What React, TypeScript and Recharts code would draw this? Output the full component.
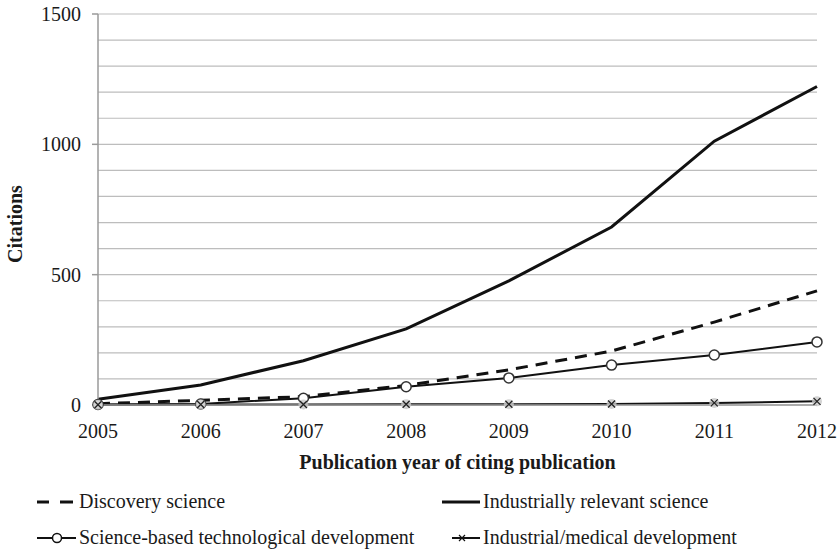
import React from "react";
import { LineChart, Line, XAxis, YAxis, CartesianGrid, Legend, Label } from "recharts";

const YEARS = [2005, 2006, 2007, 2008, 2009, 2010, 2011, 2012];
const DISCOVERY = [5, 18, 32, 75, 135, 207, 318, 438];
const INDUSTRIALLY_RELEVANT = [22, 77, 170, 292, 476, 683, 1012, 1222];
const SCIENCE_BASED = [2, 4, 26, 70, 104, 153, 192, 242];
const INDUSTRIAL_MEDICAL = [1, 2, 2, 3, 3, 4, 8, 14];

const Y_TICKS = [0, 500, 1000, 1500];
const GRID_VALUES = [0, 100, 200, 300, 400, 500, 600, 700, 800, 900, 1000, 1100, 1200, 1300, 1400, 1500];

// legend is laid out row by row, two columns
const LEGEND_ORDER = ["discovery", "industrially", "science", "industrial"];

const FONT = '"Liberation Serif", Tinos, "Times New Roman", "DejaVu Serif", serif';
const FS = 20;
const TEXT = "#1a1a1a";

const data = YEARS.map((y, i) => ({
  year: String(y),
  discovery: DISCOVERY[i],
  industrially: INDUSTRIALLY_RELEVANT[i],
  science: SCIENCE_BASED[i],
  industrial: INDUSTRIAL_MEDICAL[i],
}));

// eslint-disable-next-line @typescript-eslint/no-explicit-any
const CircleDot = (props: any) => {
  const { cx, cy } = props;
  if (cx == null || cy == null) return null;
  return <circle cx={cx} cy={cy} r={5} fill="#fff" stroke="#333" strokeWidth={1.5} />;
};

// eslint-disable-next-line @typescript-eslint/no-explicit-any
const CrossDot = (props: any) => {
  const { cx, cy } = props;
  if (cx == null || cy == null) return null;
  const s = 3.5;
  return (
    <g>
      <circle cx={cx} cy={cy} r={5} fill="#c8c8c8" opacity={0.8} />
      <path
        d={`M${cx - s},${cy - s}L${cx + s},${cy + s}M${cx - s},${cy + s}L${cx + s},${cy - s}`}
        stroke="#222"
        strokeWidth={1.3}
      />
    </g>
  );
};

const LegendIcon = ({ kind }: { kind: string }) => {
  if (kind === "discovery") {
    return (
      <g>
        <line x1={0} y1={0} x2={12} y2={0} stroke="#111" strokeWidth={3} />
        <line x1={23} y1={0} x2={36} y2={0} stroke="#111" strokeWidth={3} />
      </g>
    );
  }
  if (kind === "industrially") {
    return <line x1={0} y1={0} x2={38} y2={0} stroke="#111" strokeWidth={3} />;
  }
  if (kind === "science") {
    return (
      <g>
        <line x1={0} y1={0} x2={39} y2={0} stroke="#111" strokeWidth={2} />
        <circle cx={20} cy={0} r={4.5} fill="#fff" stroke="#111" strokeWidth={1.5} />
      </g>
    );
  }
  return (
    <g>
      <line x1={10} y1={0} x2={38} y2={0} stroke="#111" strokeWidth={2} />
      <path d="M17,-3L23,3M17,3L23,-3" stroke="#111" strokeWidth={1.2} />
    </g>
  );
};

// eslint-disable-next-line @typescript-eslint/no-explicit-any
const LegendContent = ({ payload }: any) => {
  const cols = [37, 442];
  const rows = [22, 58];
  const items = LEGEND_ORDER.map((k) => (payload || []).find((p: any) => p.dataKey === k)).filter(Boolean);
  return (
    <svg width={840} height={72} style={{ display: "block" }}>
      {items.map((entry: any, i: number) => {
        const x = cols[i % 2];
        const y = rows[Math.floor(i / 2)];
        const textX = i % 2 === 0 ? 79 : 483;
        return (
          <g key={entry.dataKey}>
            <g transform={`translate(${x},${y})`}>
              <LegendIcon kind={entry.dataKey} />
            </g>
            <text x={textX} y={y + 6} fontFamily={FONT} fontSize={FS} fill={TEXT}>
              {entry.value}
            </text>
          </g>
        );
      })}
    </svg>
  );
};

export default function App() {
  return (
    <div
      style={{
        position: "absolute",
        left: 0,
        top: 0,
        width: 840,
        height: 552,
        background: "#fff",
        fontFamily: FONT,
      }}
    >
      <LineChart width={840} height={552} data={data} margin={{ top: 14, right: 23, bottom: 0, left: 0 }}>
        <CartesianGrid vertical={false} stroke="#bdbdbd" strokeWidth={1.2} horizontalValues={GRID_VALUES} />
        <XAxis
          dataKey="year"
          height={147}
          tickLine={false}
          tickSize={0}
          tickMargin={19}
          axisLine={{ stroke: "#9a9a9a", strokeWidth: 1.5 }}
          tick={{ fontSize: FS, fill: TEXT, fontFamily: FONT }}
          interval={0}
        >
          <Label
            content={(props: any) => {
              const vb = props.viewBox || {};
              return (
                <text
                  x={vb.x + vb.width / 2}
                  y={469}
                  textAnchor="middle"
                  fontFamily={FONT}
                  fontSize={FS}
                  fontWeight="bold"
                  fill={TEXT}
                >
                  Publication year of citing publication
                </text>
              );
            }}
          />
        </XAxis>
        <YAxis
          width={98}
          domain={[0, 1500]}
          ticks={Y_TICKS}
          tickSize={6}
          tickMargin={11}
          tickLine={{ stroke: "#9a9a9a", strokeWidth: 1.5 }}
          axisLine={{ stroke: "#9a9a9a", strokeWidth: 1.5 }}
          tick={{ fontSize: FS, fill: TEXT, fontFamily: FONT }}
        >
          <Label
            content={() => (
              <text
                transform="translate(22,224) rotate(-90)"
                textAnchor="middle"
                fontFamily={FONT}
                fontSize={FS}
                fontWeight="bold"
                fill={TEXT}
              >
                Citations
              </text>
            )}
          />
        </YAxis>
        <Legend
          verticalAlign="middle"
          align="center"
          wrapperStyle={{ top: 480, left: 0, width: 840, height: 72 }}
          content={<LegendContent />}
        />
        <Line
          dataKey="discovery"
          name="Discovery science"
          type="linear"
          stroke="#111"
          strokeWidth={3}
          strokeDasharray="12 8"
          dot={false}
          activeDot={false}
          isAnimationActive={false}
        />
        <Line
          dataKey="industrially"
          name="Industrially relevant science"
          type="linear"
          stroke="#111"
          strokeWidth={3}
          dot={false}
          activeDot={false}
          isAnimationActive={false}
        />
        <Line
          dataKey="science"
          name="Science-based technological development"
          type="linear"
          stroke="#111"
          strokeWidth={2}
          dot={<CircleDot />}
          activeDot={false}
          isAnimationActive={false}
        />
        <Line
          dataKey="industrial"
          name="Industrial/medical development"
          type="linear"
          stroke="#111"
          strokeWidth={2}
          dot={<CrossDot />}
          activeDot={false}
          isAnimationActive={false}
        />
      </LineChart>
    </div>
  );
}
